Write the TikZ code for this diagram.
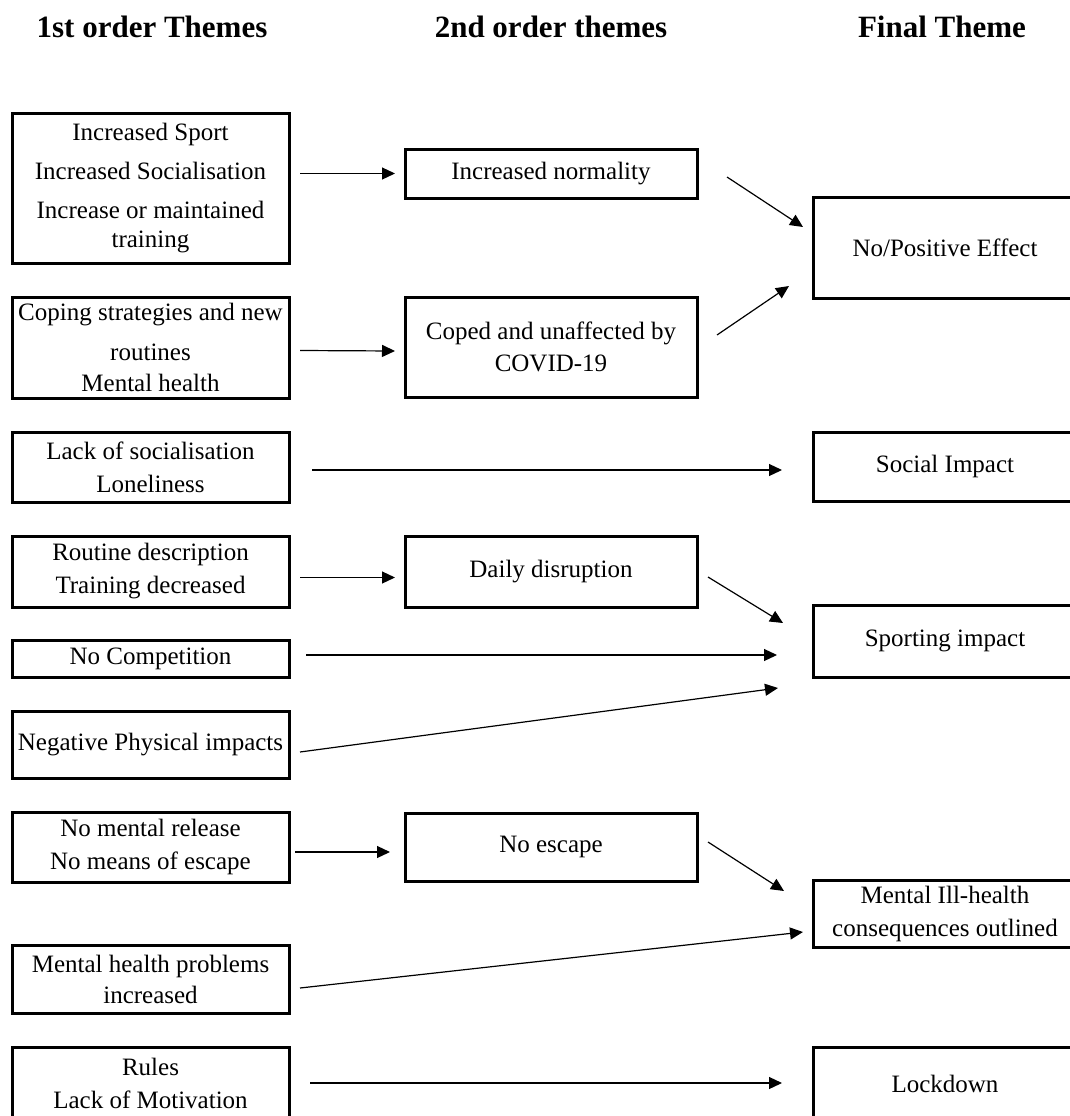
\documentclass[tikz,border=0pt]{standalone}
\usepackage{fontspec}
\setmainfont{Liberation Serif}
\usetikzlibrary{arrows.meta,calc}
\begin{document}
\begin{tikzpicture}[x=1pt,y=-1pt,
  box/.style={draw,line width=3pt,align=center,inner sep=0pt,outer sep=0pt,font=\fontsize{25}{33}\selectfont},
  lbox/.style={box,minimum width=277pt},
  mbox/.style={box,minimum width=292pt},
  rbox/.style={box,minimum width=264pt},
  arr/.style={line width=1.2pt,-{Triangle[length=13pt,width=12pt]}},
  head/.style={font=\fontsize{31}{36}\selectfont\bfseries,anchor=base}]
\useasboundingbox (0,0) rectangle (1070,1116);
% headers
\node[head] (h1) at (152,38) {1st order Themes};
\node[head] (h2) at (551,38) {2nd order themes};
\node[head] (h3) at (942,38) {Final Theme};
% left column
\node[lbox,minimum height=150pt] (L1) at (150.5,188) {Increased Sport\\[6pt]Increased Socialisation\\[6pt]Increase or maintained\\[-4pt]training};
\node[lbox,minimum height=101pt] (L2) at (150.5,347.5) {Coping strategies and new\\[7pt]routines\\[-2pt]Mental health};
\node[lbox,minimum height=70pt] (L3) at (150.5,467) {Lack of socialisation\\Loneliness};
\node[lbox,minimum height=71pt] (L4) at (150.5,571.5) {Routine description\\Training decreased};
\node[lbox,minimum height=37pt] (L5) at (150.5,658.5) {No Competition};
\node[lbox,minimum height=67pt] (L6) at (150.5,744.5) {Negative Physical impacts};
\node[lbox,minimum height=70pt] (L7) at (150.5,847) {No mental release\\No means of escape};
\node[lbox,minimum height=68pt] (L8) at (150.5,979) {Mental health problems\\[-2pt]increased};
\node[lbox,minimum height=73pt] (L9) at (150.5,1083.5) {Rules\\Lack of Motivation};
% middle column
\node[mbox,minimum height=49pt] (N1) at (551,173.5) {Increased normality};
\node[mbox,minimum height=100pt] (C) at (551,347) {Coped and unaffected by\\[-1pt]COVID-19};
\node[mbox,minimum height=71pt] (D) at (551,571.5) {Daily disruption};
\node[mbox,minimum height=68pt] (E) at (551,847) {No escape};
% right column
\node[rbox,minimum height=101pt] (P) at (945,247.5) {No/Positive Effect};
\node[rbox,minimum height=69pt] (Soc) at (945,466.5) {Social Impact};
\node[rbox,minimum height=72pt] (S) at (945,641) {Sporting impact};
\node[rbox,minimum height=67pt] (M) at (945,913.5) {Mental Ill-health\\consequences outlined};
\node[rbox,minimum height=73pt] (K) at (945,1083.5) {Lockdown};
% connectors
\draw[arr] ($(L1.east |- N1.west)+(11,0)$) -- ($(N1.west)+(-10,0)$);
\draw[arr] ($(L2.east)+(11,3)$) -- ($(C.west)+(-10,4)$);
\draw[arr] ($(L3.east)+(23,3)$) -- ($(Soc.west)+(-31,3.5)$);
\draw[arr] ($(L4.east)+(11,6)$) -- ($(D.west)+(-10,6)$);
\draw[arr] ($(L5.east)+(17,-3.5)$) -- ($(S.west)+(-36,14)$);
\draw[arr] ($(L6.east)+(11,7.5)$) -- ($(S.west)+(-35,47)$);
\draw[arr] ($(D.east)+(11,5.5)$) -- ($(S.west)+(-30,-18)$);
\draw[arr] ($(N1.east)+(30,3.5)$) -- ($(P.west)+(-10,-20.5)$);
\draw[arr] ($(C.east)+(20,-12)$) -- ($(P.west)+(-24,38.5)$);
\draw[arr] ($(L7.east)+(6,5)$) -- ($(E.west)+(-15,5)$);
\draw[arr] ($(E.east)+(11,-5)$) -- ($(M.west)+(-29,-22.5)$);
\draw[arr] ($(L8.east)+(11,9)$) -- ($(M.west)+(-10,18.5)$);
\draw[arr] ($(L9.east)+(21,-0.5)$) -- ($(K.west)+(-31,-0.5)$);
\end{tikzpicture}
\end{document}
